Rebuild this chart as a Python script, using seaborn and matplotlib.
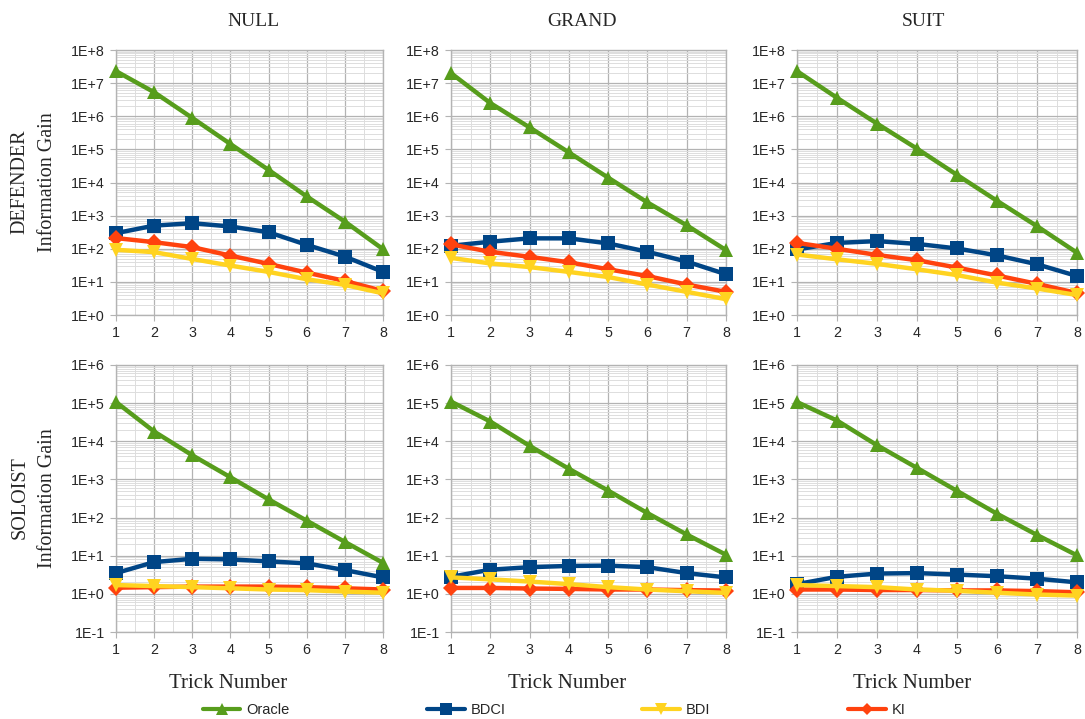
import numpy as np
import pandas as pd
import matplotlib
matplotlib.use('Agg')
import matplotlib.pyplot as plt
import matplotlib.ticker as mticker
from matplotlib.lines import Line2D
import seaborn as sns

# Data
tricks = [1, 2, 3, 4, 5, 6, 7, 8]
games = ['NULL', 'GRAND', 'SUIT']
roles = ['DEFENDER', 'SOLOIST']
methods = ['Oracle', 'BDCI', 'BDI', 'KI']

# DEFENDER
def_null_oracle = [2.3e7, 5.3e6, 8.9e5, 1.45e5, 2.4e4, 3.8e3, 660, 97]
def_null_bdci = [295, 500, 590, 470, 315, 131, 58, 20]
def_null_bdi = [93, 79, 49, 31, 20, 12, 8.1, 4.5]
def_null_ki = [210, 158, 112, 62, 35, 19, 10.7, 5.3]

def_grand_oracle = [2.0e7, 2.5e6, 4.6e5, 8.1e4, 1.4e4, 2.5e3, 510, 91]
def_grand_bdci = [123, 163, 206, 206, 145, 81, 41, 17]
def_grand_bdi = [53, 36, 28, 20, 14, 8.3, 5.0, 3.0]
def_grand_ki = [135, 81, 57, 39, 24, 15, 8.3, 5.0]

def_suit_oracle = [2.3e7, 3.6e6, 6.0e5, 1.05e5, 1.7e4, 2.8e3, 480, 76]
def_suit_bdci = [95, 150, 170, 140, 102, 63, 34, 15]
def_suit_bdi = [67, 48, 35, 24, 16, 9.5, 6.3, 4.0]
def_suit_ki = [150, 100, 65, 45, 27, 15.6, 8.7, 4.6]

# SOLOIST
sol_null_oracle = [1.07e5, 1.8e4, 4.3e3, 1.14e3, 300, 83, 23, 6.5]
sol_null_bdci = [3.5, 6.8, 8.3, 8.0, 7.1, 6.3, 4.2, 2.7]
sol_null_bdi = [1.7, 1.6, 1.5, 1.4, 1.3, 1.25, 1.15, 1.07]
sol_null_ki = [1.45, 1.5, 1.55, 1.55, 1.55, 1.5, 1.4, 1.3]

sol_grand_oracle = [1.1e5, 3.3e4, 7.6e3, 1.9e3, 510, 131, 36, 10.6]
sol_grand_bdci = [2.8, 4.3, 5.0, 5.4, 5.5, 5.0, 3.5, 2.7]
sol_grand_bdi = [2.7, 2.4, 2.1, 1.8, 1.5, 1.3, 1.17, 1.06]
sol_grand_ki = [1.43, 1.43, 1.38, 1.35, 1.3, 1.3, 1.25, 1.22]

sol_suit_oracle = [1.07e5, 3.5e4, 7.9e3, 2.0e3, 500, 126, 35, 10.2]
sol_suit_bdci = [1.8, 2.8, 3.4, 3.5, 3.2, 2.9, 2.5, 2.0]
sol_suit_bdi = [1.7, 1.6, 1.5, 1.3, 1.2, 1.07, 0.96, 0.9]
sol_suit_ki = [1.3, 1.3, 1.26, 1.26, 1.23, 1.23, 1.18, 1.1]

series = {
    ('DEFENDER', 'NULL'): [def_null_oracle, def_null_bdci, def_null_bdi, def_null_ki],
    ('DEFENDER', 'GRAND'): [def_grand_oracle, def_grand_bdci, def_grand_bdi, def_grand_ki],
    ('DEFENDER', 'SUIT'): [def_suit_oracle, def_suit_bdci, def_suit_bdi, def_suit_ki],
    ('SOLOIST', 'NULL'): [sol_null_oracle, sol_null_bdci, sol_null_bdi, sol_null_ki],
    ('SOLOIST', 'GRAND'): [sol_grand_oracle, sol_grand_bdci, sol_grand_bdi, sol_grand_ki],
    ('SOLOIST', 'SUIT'): [sol_suit_oracle, sol_suit_bdci, sol_suit_bdi, sol_suit_ki],
}

rows = []
for (role, game), vals in series.items():
    for m, v in zip(methods, vals):
        for t, g in zip(tricks, v):
            rows.append({'role': role, 'game': game, 'method': m, 'trick': t, 'gain': g})
df = pd.DataFrame(rows)

colors = {'Oracle': '#579d1c', 'BDCI': '#004586', 'BDI': '#ffd320', 'KI': '#ff420e'}
markers = {'Oracle': '^', 'BDCI': 's', 'BDI': 'v', 'KI': 'D'}
msizes = {'Oracle': 10, 'BDCI': 10, 'BDI': 10, 'KI': 8}
draw_order = ['Oracle', 'BDCI', 'KI', 'BDI']

sns.set_style('white')
plt.rcParams['font.family'] = ['Liberation Sans', 'DejaVu Sans']

W, H = 1085, 719
fig = plt.figure(figsize=(W / 100, H / 100), dpi=100)

col_px = [(116, 383), (451, 726), (797, 1077)]
row_px = [(50, 315), (365, 632)]
ylims = {'DEFENDER': (1, 1e8), 'SOLOIST': (0.1, 1e6)}

def fmt(v, pos):
    return f"1E{int(round(np.log10(v))):+d}"

for ri, role in enumerate(roles):
    for ci, game in enumerate(games):
        L, R = col_px[ci]
        T, B = row_px[ri]
        ax = fig.add_axes([L / W, 1 - B / H, (R - L) / W, (B - T) / H])
        sub = df[(df.role == role) & (df.game == game)]
        for m in draw_order:
            d = sub[sub.method == m]
            sns.lineplot(data=d, x='trick', y='gain', ax=ax, color=colors[m],
                         marker=markers[m], markersize=msizes[m], markeredgewidth=0,
                         linewidth=3.2, clip_on=False, legend=False, zorder=3)
        ax.set_yscale('log')
        ax.set_xlim(1, 8)
        ax.set_ylim(*ylims[role])
        ax.yaxis.set_major_locator(mticker.LogLocator(base=10, numticks=20))
        ax.yaxis.set_minor_locator(mticker.LogLocator(base=10, subs=np.arange(2, 10), numticks=20))
        ax.yaxis.set_major_formatter(mticker.FuncFormatter(fmt))
        ax.yaxis.set_minor_formatter(mticker.NullFormatter())
        ax.xaxis.set_major_locator(mticker.FixedLocator(tricks))
        ax.xaxis.set_minor_locator(mticker.MultipleLocator(0.5))
        ax.grid(which='major', color='#b3b3b3', linewidth=0.9)
        ax.grid(which='minor', color='#dddddd', linewidth=0.7)
        ax.set_axisbelow(True)
        ax.tick_params(which='major', length=4, color='#b3b3b3', labelsize=10.3, pad=4,
                       direction='out', left=True, bottom=True)
        ax.tick_params(which='minor', length=0)
        for s in ax.spines.values():
            s.set_color('#b3b3b3')
            s.set_linewidth(1)
        ax.set_xlabel('')
        ax.set_ylabel('')

serif = ['Liberation Serif', 'DejaVu Serif']
title_x = [253, 582, 923]
for game, x in zip(games, title_x):
    fig.text(x / W, 1 - 22 / H, game, ha='center', va='center', fontsize=14, family=serif)

row_center = [182, 498]
for role, y in zip(roles, row_center):
    fig.text(20 / W, 1 - y / H, role, ha='center', va='center', rotation=90, fontsize=14.5, family=serif)
    fig.text(48 / W, 1 - y / H, 'Information Gain', ha='center', va='center', rotation=90,
             fontsize=14.5, family=serif)

xl_x = [228, 567, 912]
for x in xl_x:
    fig.text(x / W, 1 - 684 / H, 'Trick Number', ha='center', va='center', fontsize=15, family=serif)

handles = [Line2D([0], [0], color=colors[m], marker=markers[m], markersize=msizes[m] * 0.8,
                  markeredgewidth=0, linewidth=3) for m in methods]
fig.legend(handles, methods, loc='center', bbox_to_anchor=(554 / W, 1 - 710 / H), ncol=4,
           frameon=False, fontsize=10.5, columnspacing=9.4, handlelength=2.6, handletextpad=0.4)

fig.savefig('out.png', dpi=100)
